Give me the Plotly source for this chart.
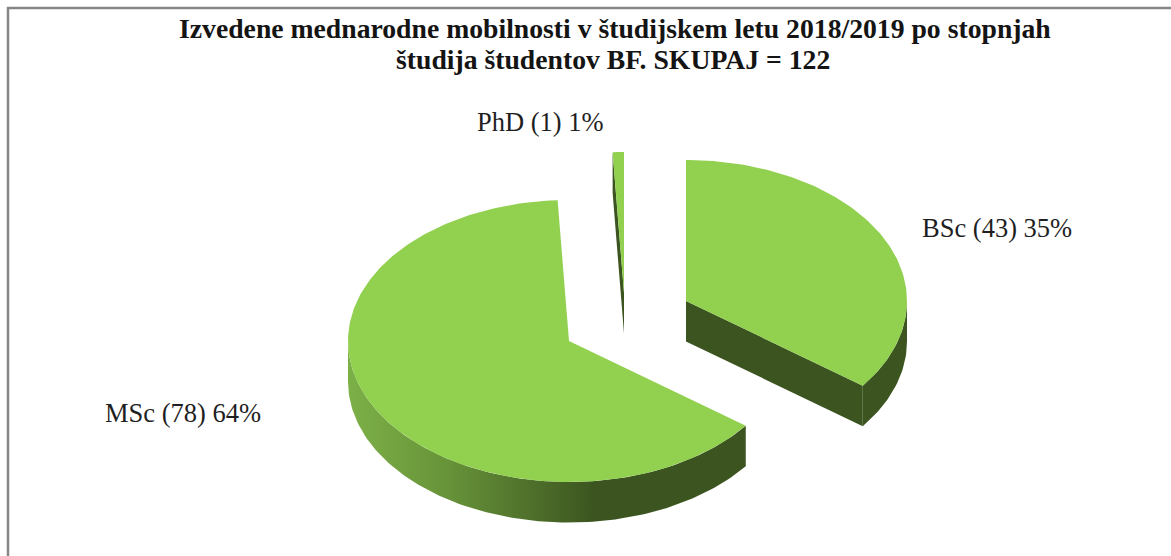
"""Exploded pseudo-3D pie of completed student mobilities by study level."""
import math

import plotly.graph_objects as go

CATEGORIES = ["BSc", "MSc", "PhD"]
COUNTS = [43, 78, 1]
TITLE_LINES = [
    "Izvedene mednarodne mobilnosti v študijskem letu 2018/2019 po stopnjah",
    "študija študentov BF. SKUPAJ = 122",
]

# pie geometry, in page pixels
_RX = 221
_RY = 141
_DEPTH = 40.5
_APEX = {"BSc": (686, 301), "MSc": (569, 341), "PhD": (624, 293)}
_LABEL_AT = {"BSc": (997, 228), "MSc": (183, 413), "PhD": (540, 122)}
_TITLE_AT = [(615, 28), (612.5, 59)]

_TOP = "#92d050"
_SIDE = "#3c5520"
_TEXT = "#1f1f1f"
_FONT = "Liberation Serif"


def rim(apex, angle, drop=0.0):
    # angle runs clockwise from twelve o'clock
    rad = math.radians(angle)
    return apex[0] + _RX * math.sin(rad), apex[1] - _RY * math.cos(rad) + drop


def arc(apex, start, stop, drop=0.0):
    steps = max(2, int(abs(stop - start)))
    return [rim(apex, start + (stop - start) * i / steps, drop) for i in range(steps + 1)]


def polygon(points, name, **style):
    xs, ys = zip(*points)
    return go.Scatter(
        x=list(xs) + [xs[0]],
        y=list(ys) + [ys[0]],
        mode="lines",
        line=dict(width=0),
        fill="toself",
        name=name,
        hoverinfo="name",
        showlegend=False,
        **style,
    )


total = sum(COUNTS)
fig = go.Figure()

tops = []
start = 0.0
for category, count in zip(CATEGORIES, COUNTS):
    stop = start + 360 * count / total
    apex = _APEX[category]

    # rounded outer wall, only the half turned towards the viewer shows
    low, high = max(start, 90), min(stop, 270)
    if low < high:
        wall = arc(apex, low, high) + arc(apex, high, low, _DEPTH)
        if high >= 270:
            fig.add_trace(
                polygon(
                    wall,
                    category,
                    fillgradient=dict(
                        type="horizontal",
                        colorscale=[
                            [0.0, "#7cb047"],
                            [0.25, "#679339"],
                            [0.62, _SIDE],
                            [1.0, _SIDE],
                        ],
                    ),
                )
            )
        else:
            fig.add_trace(polygon(wall, category, fillcolor=_SIDE))

    # flat cut faces
    if 0 < stop < 180:
        edge = rim(apex, stop)
        face = [apex, edge, (edge[0], edge[1] + _DEPTH), (apex[0], apex[1] + _DEPTH)]
        fig.add_trace(polygon(face, category, fillcolor=_SIDE))
    if 180 < start < 360:
        edge = rim(apex, start)
        face = [apex, edge, (edge[0], edge[1] + _DEPTH), (apex[0], apex[1] + _DEPTH)]
        fig.add_trace(polygon(face, category, fillcolor=_SIDE))

    tops.append(polygon([apex] + arc(apex, start, stop), category, fillcolor=_TOP))
    start = stop

for trace in tops:
    fig.add_trace(trace)

for category, count in zip(CATEGORIES, COUNTS):
    x, y = _LABEL_AT[category]
    fig.add_annotation(
        x=x,
        y=y,
        text=f"{category} ({count}) {round(100 * count / total)}%",
        showarrow=False,
        font=dict(family=_FONT, size=26.5, color=_TEXT),
    )

for line, (x, y) in zip(TITLE_LINES, _TITLE_AT):
    fig.add_annotation(
        x=x,
        y=y,
        text=f"<b>{line}</b>",
        showarrow=False,
        font=dict(family=_FONT, size=27.7, color="#141414"),
    )

# chart frame; right and bottom edges are cropped off in the picture
for x0, y0, x1, y1 in [(7, 8, 1171, 8), (8, 7, 8, 556)]:
    fig.add_shape(type="line", x0=x0, y0=y0, x1=x1, y1=y1, line=dict(color="#868686", width=2.5))

fig.update_layout(
    width=1171,
    height=556,
    margin=dict(l=0, r=0, t=0, b=0),
    paper_bgcolor="white",
    plot_bgcolor="white",
    showlegend=False,
    xaxis=dict(range=[0, 1171], visible=False),
    yaxis=dict(range=[556, 0], visible=False),
)

fig.write_html(
    "out.html",
    config=dict(displayModeBar=False),
    post_script="document.body.style.margin = '0';",
)
